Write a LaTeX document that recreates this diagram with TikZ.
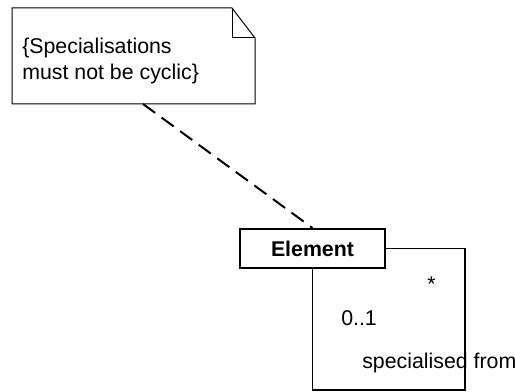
\documentclass[tikz,border=0pt]{standalone}
\usepackage{fontspec}
\setmainfont{Liberation Sans}
\usetikzlibrary{positioning,calc}

\begin{document}
\begin{tikzpicture}[x=0.75pt,y=-0.75pt,
  umltext/.style={font=\fontsize{16}{19.5}\selectfont, inner sep=0pt},
  umlline/.style={draw=black, line width=0.9pt}]
\useasboundingbox (0,0) rectangle (515,392);
% note with folded corner
\node[minimum width=182.25pt, minimum height=72pt, inner sep=0pt, outer sep=0pt] (note) at (133.5,56) {};
\draw[umlline, line width=0.75pt] (note.north west) -- ($(note.north east)+(-23,0)$) -- ($(note.north east)+(0,30)$)
  -- (note.south east) -- (note.south west) -- cycle;
\draw[umlline, line width=0.75pt] ($(note.north east)+(-23,0)$) |- ($(note.north east)+(0,30)$);
\node[umltext, anchor=base west, align=left] (constraint) at (22,80) {\{Specialisations\\must not be cyclic\}};
% class
\node[draw, line width=1.5pt, minimum width=108.75pt, minimum height=29.25pt, inner sep=0pt,
  font=\fontsize{16}{19.5}\selectfont\bfseries] (element) at (312.5,248.5) {Element};
\draw[line width=1.5pt, dash pattern=on 11.25pt off 6pt] ($(note.south)+(9.5,0)$) -- (element.north);
% self association
\coordinate (corner) at (465,390);
\draw[umlline] (element.east) -| (corner) -| (element.south);
\node[umltext, anchor=base] (many) at (431.5,292) {*};
\node[umltext, anchor=base west] (mult) at (341,326) {0..1};
\node[umltext, anchor=base west] (role) at (362,369) {specialised from};
\end{tikzpicture}
\end{document}
